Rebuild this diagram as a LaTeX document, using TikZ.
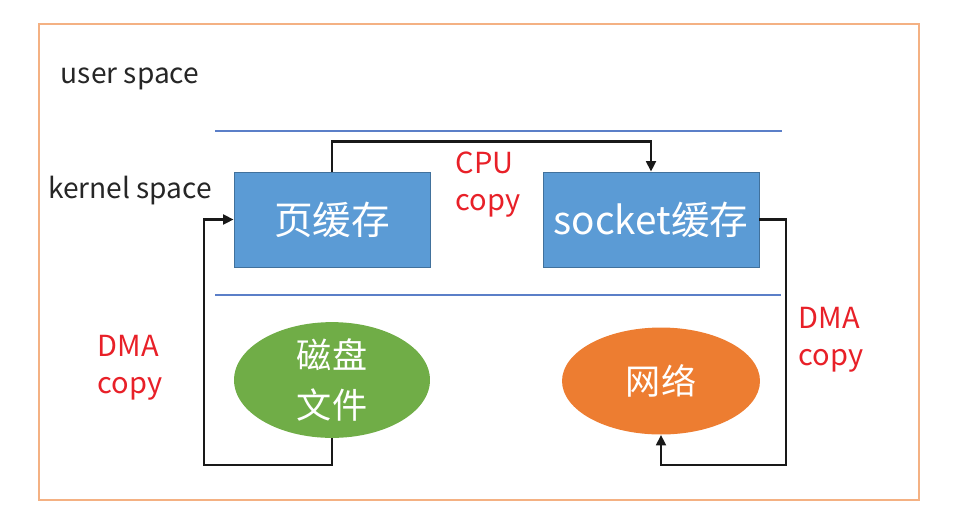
\documentclass[tikz,border=0pt]{standalone}
\usepackage{fontspec}
\setmainfont{Noto Sans CJK SC}
\usetikzlibrary{arrows.meta, shapes.geometric}
\definecolor{zframe}{RGB}{244,177,131}
\definecolor{zline}{RGB}{91,127,200}
\definecolor{zbox}{RGB}{91,155,213}
\definecolor{zboxdraw}{RGB}{65,113,156}
\definecolor{zgreen}{RGB}{112,173,71}
\definecolor{zorange}{RGB}{237,125,49}
\definecolor{zred}{RGB}{232,32,40}
\definecolor{ztext}{RGB}{38,38,38}

\begin{document}
\begin{tikzpicture}[
  x=0.02cm, y=-0.02cm,
  >={Triangle[length=6pt, width=5.5pt]},
  buf/.style ={rectangle, fill=zbox, draw=zboxdraw, minimum height=1.9cm, inner sep=0pt,
               text=white, font=\fontsize{22}{26}\selectfont},
  dev/.style ={ellipse, draw=none, inner sep=0pt, align=center, text=white,
               font=\fontsize{20}{28}\selectfont},
  lab/.style ={text=ztext, font=\fontsize{16}{20}\selectfont},
  cp/.style  ={text=zred, align=left, font=\fontsize{16.5}{21}\selectfont},
  sep/.style ={zline, line width=0.6pt},
  edge/.style={->, line width=1.6pt, black!90},
]
\useasboundingbox (0,0) rectangle (955,514);

% ---- frame and space separators
\draw[zframe, line width=0.9pt] (39,24) rectangle (919,500);
\draw[sep] (215,131) -- (782,131);
\draw[sep] (215,295) -- (781,295);

% ---- nodes
\node[lab] (user)   at (130,79)  {user space};
\node[lab] (kernel) at (130,191) {kernel space};
\node[buf, minimum width=3.92cm] (page) at (332,219.5) {页缓存};
\node[buf, minimum width=4.32cm] (sock) at (651,219.5) {socket缓存};
\node[dev, fill=zgreen, minimum width=3.92cm, minimum height=2.3cm] (disk) at (332,380) {磁盘\\文件};
\node[dev, fill=zorange, minimum width=3.96cm, minimum height=2.14cm] (net) at (661,381) {网络};
\coordinate (dl) at (204,465);
\coordinate (dr) at (786,465);

% ---- edges
\draw[edge] (page.north) -- ++(0,-30) -| (sock.north);
\draw[edge] (disk.south) |- (dl) |- (page.west);
\draw[edge] (sock.east) -| (dr) -| (net.south);

% ---- copy labels
\node[cp] (cpu)  at (488,185) {CPU\\copy};
\node[cp] (dmal) at (130,368) {DMA\\copy};
\node[cp] (dmar) at (831,340) {DMA\\copy};

\end{tikzpicture}
\end{document}
